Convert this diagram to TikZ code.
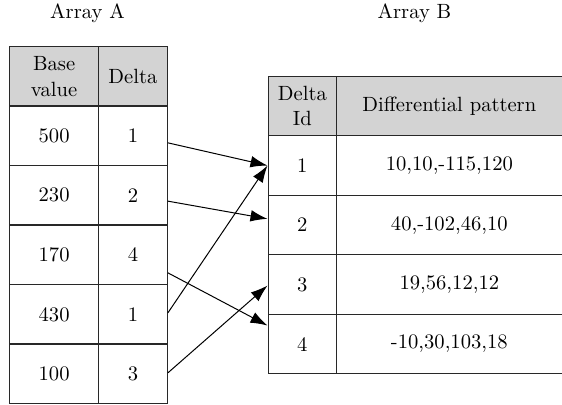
\documentclass[tikz,border=0pt]{standalone}
\usetikzlibrary{arrows.meta}
\definecolor{hdr}{RGB}{211,211,211}
\definecolor{bord}{RGB}{40,40,40}
\tikzset{
 cell/.style={draw=bord, line width=0.6pt, rectangle, anchor=north west, inner sep=0pt, minimum height=29.75pt, align=center, font=\fontsize{10.3}{12.8}\selectfont},
 hcell/.style={cell, fill=hdr},
 link/.style={line width=0.5pt, -{Latex[length=8.5pt,width=5.8pt]}},
 title/.style={font=\fontsize{10.3}{12}\selectfont}
}
\begin{document}
\begin{tikzpicture}[x=0.5pt,y=-0.5pt]
\useasboundingbox (0,0) rectangle (562,405);
\node[title] (ta) at (87.5,13) {Array A};
\node[title] (tb) at (414.5,13) {Array B};
% Array A
\node[hcell, minimum width=44.5pt] (ah1) at (9,46) {Base\\value};
\node[hcell, minimum width=34.35pt] (ah2) at (98,46) {Delta};
\node[cell, minimum width=44.5pt] (a1v) at (9,105.5) {500};
\node[cell, minimum width=34.35pt] (a1d) at (98,105.5) {1};
\node[cell, minimum width=44.5pt] (a2v) at (9,165) {230};
\node[cell, minimum width=34.35pt] (a2d) at (98,165) {2};
\node[cell, minimum width=44.5pt] (a3v) at (9,224.5) {170};
\node[cell, minimum width=34.35pt] (a3d) at (98,224.5) {4};
\node[cell, minimum width=44.5pt] (a4v) at (9,284) {430};
\node[cell, minimum width=34.35pt] (a4d) at (98,284) {1};
\node[cell, minimum width=44.5pt] (a5v) at (9,343.5) {100};
\node[cell, minimum width=34.35pt] (a5d) at (98,343.5) {3};
% Array B
\node[hcell, minimum width=34.25pt] (bh1) at (267.5,75.7) {Delta\\Id};
\node[hcell, minimum width=112.75pt] (bh2) at (336,75.7) {Differential pattern};
\node[cell, minimum width=34.25pt] (b1i) at (267.5,135.2) {1};
\node[cell, minimum width=112.75pt] (b1p) at (336,135.2) {10,10,-115,120};
\node[cell, minimum width=34.25pt] (b2i) at (267.5,194.7) {2};
\node[cell, minimum width=112.75pt] (b2p) at (336,194.7) {40,-102,46,10};
\node[cell, minimum width=34.25pt] (b3i) at (267.5,254.2) {3};
\node[cell, minimum width=112.75pt] (b3p) at (336,254.2) {19,56,12,12};
\node[cell, minimum width=34.25pt] (b4i) at (267.5,313.7) {4};
\node[cell, minimum width=112.75pt] (b4p) at (336,313.7) {-10,30,103,18};
% links
\draw[link] ([yshift=-3.5pt]a1d.east) -- (b1i.west);
\draw[link] ([yshift=-2.9pt]a2d.east) -- ([yshift=3.1pt]b2i.west);
\draw[link] ([yshift=-9pt]a3d.east) -- ([yshift=9.25pt]b4i.west);
\draw[link] ([yshift=0.75pt]a4d.east) -- (b1i.west);
\draw[link] ([yshift=0.5pt]a5d.east) -- ([yshift=-0.5pt]b3i.west);
\end{tikzpicture}
\end{document}
